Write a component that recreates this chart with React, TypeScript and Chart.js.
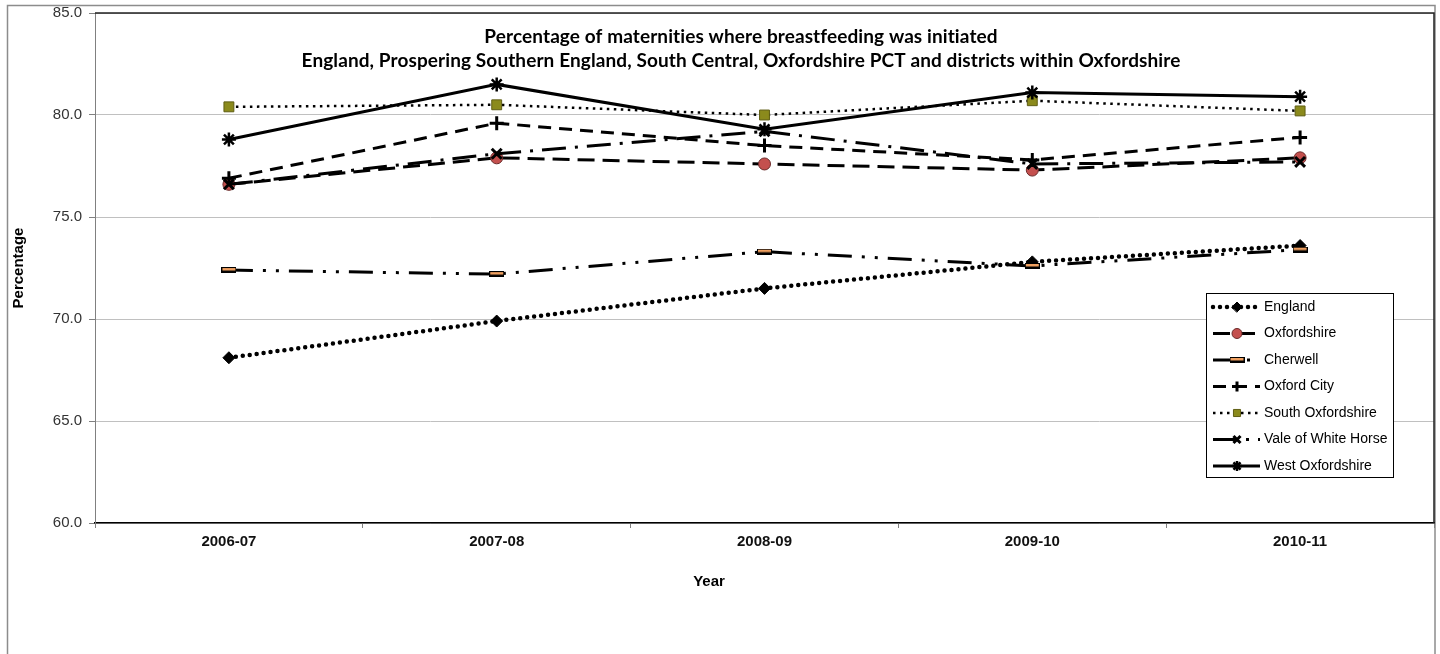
import { useEffect, useRef } from 'react';
import { Chart, registerables } from 'chart.js';
import type { ChartConfiguration, Plugin } from 'chart.js';
import { drawPoint } from 'chart.js/helpers';

Chart.register(...registerables);

// Data
const categories = ['2006-07', '2007-08', '2008-09', '2009-10', '2010-11'];
const england = [68.1, 69.9, 71.5, 72.8, 73.6];
const oxfordshire = [76.6, 77.9, 77.6, 77.3, 77.9];
const cherwell = [72.4, 72.2, 73.3, 72.6, 73.4];
const oxfordCity = [76.9, 79.6, 78.5, 77.8, 78.9];
const southOxfordshire = [80.4, 80.5, 80.0, 80.7, 80.2];
const valeOfWhiteHorse = [76.6, 78.1, 79.2, 77.6, 77.7];
const westOxfordshire = [78.8, 81.5, 79.3, 81.1, 80.9];
const yMin = 60;
const yMax = 85;
const yStep = 5;

const titleLines = [
  'Percentage of maternities where breastfeeding was initiated',
  'England, Prospering Southern England, South Central, Oxfordshire PCT and districts within Oxfordshire',
];
const xTitle = 'Year';
const yTitle = 'Percentage';

const SANS = '"Liberation Sans", Arial, sans-serif';

function makeDashMarker(): HTMLCanvasElement {
  const c = document.createElement('canvas');
  c.width = 15;
  c.height = 6;
  const g = c.getContext('2d');
  if (g) {
    g.fillStyle = '#000';
    g.fillRect(0, 0, 15, 6);
    g.fillStyle = '#f0a060';
    g.fillRect(1, 1, 13, 2.5);
  }
  return c;
}

const framePlugin: Plugin<'line'> = {
  id: 'frame',
  beforeDraw(chart) {
    const { ctx } = chart;
    ctx.save();
    ctx.fillStyle = '#fff';
    ctx.fillRect(0, 0, chart.width, chart.height);
    ctx.strokeStyle = '#8c8c8c';
    ctx.lineWidth = 1.5;
    ctx.strokeRect(7.5, 5.5, 1427.5, 700);
    ctx.restore();
  },
  beforeDatasetsDraw(chart) {
    const { ctx, chartArea } = chart;
    ctx.save();
    ctx.strokeStyle = '#222';
    ctx.lineWidth = 1.5;
    ctx.beginPath();
    ctx.moveTo(chartArea.left, chartArea.top);
    ctx.lineTo(chartArea.right, chartArea.top);
    ctx.lineTo(chartArea.right, chartArea.bottom);
    ctx.stroke();
    ctx.restore();
  },
  afterDraw(chart) {
    const { ctx } = chart;
    ctx.save();
    // title
    ctx.fillStyle = '#000';
    ctx.textAlign = 'center';
    ctx.textBaseline = 'alphabetic';
    ctx.font = `bold 19px Lato, "Open Sans", sans-serif`;
    (ctx as any).letterSpacing = '0.1px';
    ctx.fillText(titleLines[0], 741, 43);
    ctx.fillText(titleLines[1], 741, 67);
    (ctx as any).letterSpacing = '0px';
    // x axis title
    ctx.font = `bold 15px ${SANS}`;
    ctx.textBaseline = 'middle';
    ctx.fillText(xTitle, 709, 582);

    // legend
    const lx = 1206.5;
    const ly = 293.5;
    const lw = 187;
    const lh = 184;
    ctx.fillStyle = '#fff';
    ctx.fillRect(lx, ly, lw, lh);
    ctx.strokeStyle = '#000';
    ctx.lineWidth = 1;
    ctx.strokeRect(lx, ly, lw, lh);
    chart.data.datasets.forEach((ds: any, i: number) => {
      const y = 307 + i * 26.5;
      ctx.save();
      ctx.strokeStyle = ds.borderColor;
      ctx.lineWidth = ds.borderWidth;
      ctx.lineCap = ds.borderCapStyle || 'butt';
      ctx.setLineDash(ds.borderDash || []);
      ctx.beginPath();
      ctx.moveTo(1213, y);
      ctx.lineTo(1260, y);
      ctx.stroke();
      ctx.setLineDash([]);
      ctx.fillStyle = ds.pointBackgroundColor;
      ctx.strokeStyle = ds.pointBorderColor;
      ctx.lineWidth = ds.pointBorderWidth;
      drawPoint(ctx, {
        pointStyle: ds.pointStyle,
        rotation: 0,
        radius: Math.min(ds.pointRadius, 5),
        borderWidth: ds.pointBorderWidth,
      }, 1237, y);
      ctx.restore();
      ctx.fillStyle = '#000';
      ctx.textAlign = 'left';
      ctx.textBaseline = 'middle';
      ctx.font = `14px ${SANS}`;
      ctx.fillText(ds.label, 1264, y);
    });
    ctx.restore();
  },
};

export default function App() {
  const canvasRef = useRef<HTMLCanvasElement>(null);
  const chartRef = useRef<Chart | null>(null);

  useEffect(() => {
    if (!canvasRef.current) return;
    const ctx = canvasRef.current.getContext('2d');
    if (!ctx) return;
    if (chartRef.current) chartRef.current.destroy();

    const base = {
      borderColor: '#000',
      borderWidth: 3,
      tension: 0,
      fill: false,
      pointBorderColor: '#000',
      pointBackgroundColor: '#000',
      pointBorderWidth: 1,
      pointRadius: 6,
      pointHoverRadius: 6,
    };

    const series = [
      {
        ...base,
        label: 'England',
        data: england,
        borderWidth: 4.5,
        borderDash: [0, 7],
        borderCapStyle: 'round' as const,
        pointStyle: 'rectRot' as const,
        pointRadius: 6,
      },
      {
        ...base,
        label: 'Oxfordshire',
        data: oxfordshire,
        borderDash: [17, 8],
        pointStyle: 'circle' as const,
        pointBackgroundColor: '#c4504e',
        pointBorderColor: '#6b2b2a',
      },
      {
        ...base,
        label: 'Cherwell',
        data: cherwell,
        borderDash: [24, 10, 3, 10, 3, 10],
        pointStyle: makeDashMarker(),
      },
      {
        ...base,
        label: 'Oxford City',
        data: oxfordCity,
        borderDash: [13, 8],
        pointStyle: 'cross' as const,
        pointRadius: 7,
        pointBorderWidth: 3,
      },
      {
        ...base,
        label: 'South Oxfordshire',
        data: southOxfordshire,
        borderWidth: 2.5,
        borderDash: [2.5, 4.5],
        pointStyle: 'rect' as const,
        pointRadius: 7,
        pointBackgroundColor: '#8b8a1c',
        pointBorderColor: '#5f5e14',
      },
      {
        ...base,
        label: 'Vale of White Horse',
        data: valeOfWhiteHorse,
        borderDash: [24, 9, 3, 9],
        pointStyle: 'crossRot' as const,
        pointRadius: 7,
        pointBorderWidth: 3,
      },
      {
        ...base,
        label: 'West Oxfordshire',
        data: westOxfordshire,
        pointStyle: 'star' as const,
        pointRadius: 7,
        pointBorderWidth: 2.5,
      },
    ].map((ds, i, arr) => ({ ...ds, order: arr.length - i }));

    const config: ChartConfiguration<'line'> = {
      type: 'line',
      data: { labels: categories, datasets: series as any },
      options: {
        animation: false,
        responsive: false,
        maintainAspectRatio: false,
        layout: { autoPadding: false, padding: { left: 7, top: 13, right: 6, bottom: 0 } },
        plugins: {
          legend: { display: false },
          title: { display: false },
          tooltip: { enabled: false },
        },
        scales: {
          x: {
            type: 'category',
            offset: true,
            afterFit: (s: any) => {
              s.height = 131;
              s.paddingLeft = 0;
              s.paddingRight = 0;
            },
            grid: {
              drawOnChartArea: false,
              drawTicks: true,
              tickLength: 5,
              tickColor: '#808080',
              offset: true,
            },
            border: { color: '#000', width: 1.5 },
            ticks: {
              padding: 5,
              color: '#111',
              font: { family: SANS, size: 15, weight: 'bold' },
              maxRotation: 0,
            },
          },
          y: {
            min: yMin,
            max: yMax,
            afterFit: (s: any) => {
              s.width = 88;
              s.paddingTop = 0;
              s.paddingBottom = 0;
            },
            grid: {
              color: '#c0c0c0',
              lineWidth: 1,
              drawTicks: true,
              tickLength: 6,
              tickColor: '#808080',
            },
            border: { color: '#808080', width: 1 },
            ticks: {
              stepSize: yStep,
              padding: 7,
              color: '#333',
              font: { family: SANS, size: 15 },
              callback: (v: any) => Number(v).toFixed(1),
            },
            title: {
              display: true,
              text: yTitle,
              color: '#000',
              font: { family: SANS, size: 15, weight: 'bold' },
              padding: { top: 3, bottom: 0 },
            },
          },
        },
      },
      plugins: [framePlugin],
    };

    chartRef.current = new Chart(ctx, config);

    return () => {
      if (chartRef.current) {
        chartRef.current.destroy();
        chartRef.current = null;
      }
    };
  }, []);

  return (
    <div style={{ position: 'absolute', left: 0, top: 0, width: 1440, height: 654, background: '#fff' }}>
      <canvas ref={canvasRef} width={1440} height={654} style={{ display: 'block' }} />
    </div>
  );
}
